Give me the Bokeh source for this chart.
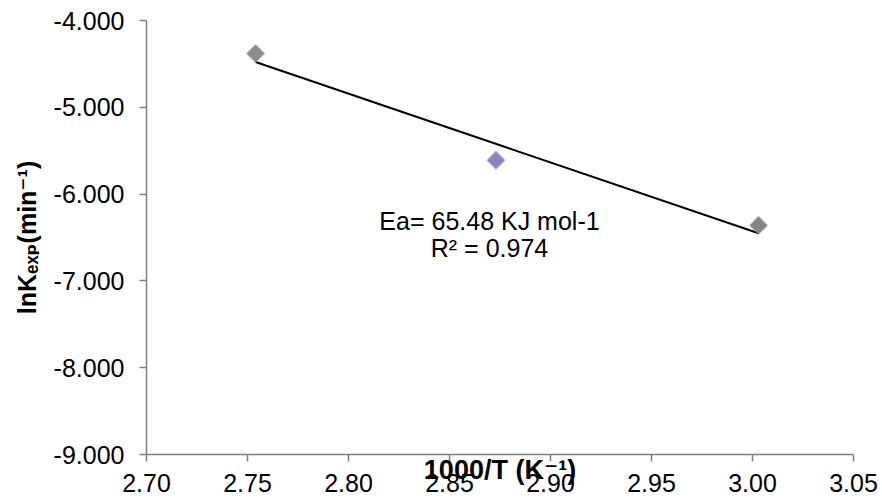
import numpy as np
from bokeh.plotting import figure
from bokeh.models import Range1d, FixedTicker, PrintfTickFormatter, Label
from bokeh.embed import file_html
from bokeh.resources import INLINE

# ---- data ----
inv_T = [2.754, 2.873, 3.003]          # 1000/T (K^-1)
ln_k = [-4.38, -5.61, -6.36]           # ln K_exp (min^-1)
x_ticks = [2.70, 2.75, 2.80, 2.85, 2.90, 2.95, 3.00, 3.05]
y_ticks = [-9.0, -8.0, -7.0, -6.0, -5.0, -4.0]
x_title = "1000/T (K\u207b\u00b9)"
y_title = "lnK\u2091\u2093\u209a(min\u207b\u00b9)"
ea_text = "Ea= 65.48 KJ mol-1"
r2_text = "R\u00b2 = 0.974"

# ---- styles ----
marker_colors = ["#8c8c8c", "#8686bf", "#858585"]
FONT = "Liberation Sans"
TITLE_FONT = "Liberation Sans, DejaVu Sans"

p = figure(width=882, height=502, output_backend="svg", toolbar_location=None,
           x_range=Range1d(2.70, 3.05), y_range=Range1d(-9.0, -4.0),
           min_border_left=146, min_border_right=29, min_border_top=20,
           min_border_bottom=48)
p.outline_line_color = None
p.grid.visible = False
p.background_fill_color = "white"
p.border_fill_color = "white"

for ax in (p.xaxis[0], p.yaxis[0]):
    ax.axis_line_color = "#7f7f7f"
    ax.axis_line_width = 1.5
    ax.major_tick_line_color = "#7f7f7f"
    ax.major_tick_line_width = 1.5
    ax.major_tick_in = 0
    ax.major_tick_out = 7
    ax.minor_tick_line_color = None
    ax.major_label_text_font = FONT
    ax.major_label_text_font_size = "25px"
    ax.major_label_text_color = "#000000"
    ax.axis_label_text_font = TITLE_FONT
    ax.axis_label_text_font_style = "bold"
    ax.axis_label_text_color = "#000000"

p.xaxis.ticker = FixedTicker(ticks=x_ticks)
p.xaxis.formatter = PrintfTickFormatter(format="%.2f")
p.xaxis.major_label_standoff = 12
p.xaxis.axis_label = x_title
p.xaxis.axis_label_text_font_size = "27px"
p.xaxis.axis_label_standoff = -40

p.yaxis.ticker = FixedTicker(ticks=y_ticks)
p.yaxis.formatter = PrintfTickFormatter(format="%.3f")
p.yaxis.major_label_standoff = 15
p.yaxis.axis_label = y_title
p.yaxis.axis_label_text_font_size = "25px"
p.yaxis.axis_label_standoff = 10

# linear trendline from data
slope, intercept = np.polyfit(inv_T, ln_k, 1)
xs = [min(inv_T), max(inv_T)]
ys = [slope * v + intercept for v in xs]
p.line(xs, ys, line_color="black", line_width=2)

p.scatter(inv_T, ln_k, marker="square", angle=np.pi / 4, size=12,
          fill_color=marker_colors, line_color=marker_colors, line_alpha=0.5,
          line_width=2)

for txt, yy in ((ea_text, 234), (r2_text, 207)):
    p.add_layout(Label(x=343, y=yy, x_units="screen", y_units="screen", text=txt,
                       text_font=FONT, text_font_size="25px", text_color="black",
                       text_align="center", text_baseline="middle"))

open("out.html", "w").write(file_html(p, INLINE))
